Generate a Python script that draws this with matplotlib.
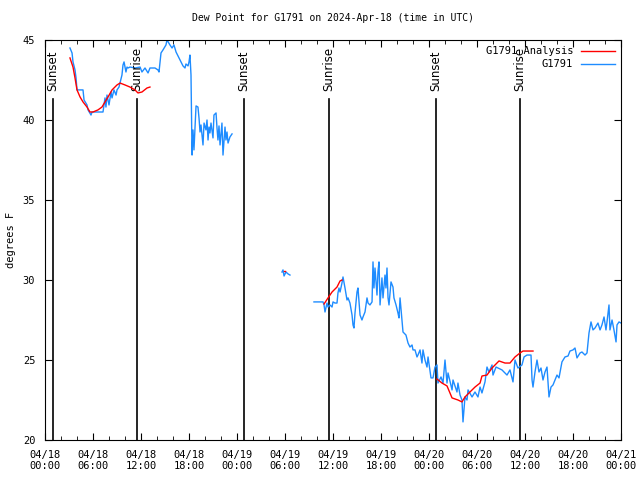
import datetime as dt
import matplotlib
matplotlib.use('Agg')
import matplotlib.pyplot as plt
import matplotlib.dates as mdates

# hours after 2024-04-18 00:00 UTC, one list per unbroken piece of the trace
obs_hours = [
    [3.12, 3.38, 3.5, 3.75, 3.88, 4.0, 4.75, 4.88, 5.25, 5.38, 5.75, 5.88, 7.25, 7.5, 7.62,
     7.75, 8.0, 8.25, 8.38, 8.62, 8.88, 9.0, 9.25, 9.62, 9.75, 9.88, 10.12, 10.25, 10.38,
     10.62, 11.25, 11.88, 12.12, 12.5, 12.88, 13.12, 13.75, 14.12, 14.25, 14.5, 14.75, 15.12,
     15.25, 15.62, 15.88, 16.12, 16.38, 16.88, 17.25, 17.5, 17.62, 17.88, 18.0, 18.12, 18.25,
     18.38, 18.5, 18.62, 18.88, 19.12, 19.25, 19.38, 19.5, 19.75, 19.88, 20.12, 20.25, 20.38,
     20.5, 20.62, 20.75, 21.0, 21.12, 21.38, 21.5, 21.62, 21.75, 21.88, 22.12, 22.25, 22.5,
     22.62, 22.75, 22.88, 23.12, 23.38],
    [29.62, 29.75, 29.88, 30.12, 30.38, 30.62],
    [33.62, 34.75, 34.88, 35.0, 35.25, 35.38, 35.62, 35.88, 36.0, 36.25, 36.5, 36.62, 36.75,
     36.88, 37.12, 37.25, 37.5, 37.75, 37.88, 38.12, 38.38, 38.5, 38.62, 38.75, 39.0, 39.12,
     39.38, 39.62, 39.75, 40.0, 40.25, 40.38, 40.62, 40.88, 41.0, 41.12, 41.25, 41.5, 41.62,
     41.75, 41.88, 42.12, 42.25, 42.5, 42.62, 42.75, 42.88, 43.0, 43.25, 43.5, 43.62, 43.88,
     44.12, 44.25, 44.38, 44.62, 44.75, 45.12, 45.38, 45.62, 45.88, 46.0, 46.25, 46.5, 46.62,
     46.88, 47.12, 47.25, 47.5, 47.75, 47.88, 48.25, 48.5, 48.75, 49.0, 49.12, 49.5, 49.75,
     50.0, 50.25, 50.38, 50.88, 51.0, 51.5, 51.62, 51.88, 52.12, 52.25, 52.5, 52.75, 52.88,
     53.38, 53.75, 54.12, 54.38, 54.62, 55.0, 55.25, 55.5, 55.88, 56.0, 56.38, 57.12, 57.75,
     58.12, 58.5, 58.75, 59.12, 59.62, 59.88, 60.25, 60.75, 60.88, 61.0, 61.25, 61.5, 61.75,
     62.0, 62.25, 62.5, 62.75, 63.0, 63.25, 63.5, 64.0, 64.25, 64.62, 65.0, 65.38, 65.62,
     66.0, 66.25, 66.5, 66.88, 67.12, 67.5, 67.75, 68.0, 68.25, 68.5, 68.75, 69.12, 69.38,
     69.62, 69.88, 70.12, 70.25, 70.5, 70.62, 70.88, 71.12, 71.38, 71.5, 71.75, 72.0],
]
obs_dewpt = [
    [44.5, 44.19, 43.63, 43.13, 42.63, 41.88, 41.88, 41.25, 40.94, 40.63, 40.31, 40.5, 40.5,
     41.38, 40.81, 41.56, 40.94, 41.75, 41.38, 41.88, 41.56, 41.88, 42.06, 42.81, 43.44,
     43.63, 43.0, 43.31, 43.25, 43.31, 43.25, 43.31, 43.0, 43.25, 42.94, 43.25, 43.25, 43.13,
     43.0, 44.19, 44.38, 44.69, 45.0, 44.69, 44.5, 44.69, 44.25, 43.75, 43.38, 43.25, 43.5,
     43.38, 43.63, 44.06, 42.81, 37.81, 39.38, 38.13, 40.88, 40.81, 40.13, 39.25, 39.69,
     38.44, 39.81, 39.38, 40.0, 38.75, 39.56, 39.19, 39.81, 38.88, 40.31, 40.44, 39.5, 38.75,
     39.63, 38.44, 39.81, 37.81, 39.56, 38.75, 39.25, 38.56, 38.94, 39.13],
    [30.5, 30.63, 30.25, 30.5, 30.38, 30.31],
    [28.63, 28.63, 28.44, 28.0, 28.56, 28.31, 28.44, 28.31, 28.63, 28.56, 28.56, 29.19, 29.5,
     29.25, 29.81, 30.19, 29.5, 28.75, 28.88, 28.56, 27.81, 27.19, 27.0, 27.94, 29.25, 29.5,
     27.81, 27.5, 27.69, 28.0, 28.88, 28.56, 28.44, 28.63, 31.13, 29.5, 30.75, 29.06, 30.5,
     31.13, 28.44, 30.13, 28.88, 30.31, 29.5, 30.75, 28.88, 28.44, 29.88, 29.56, 28.88, 28.44,
     27.94, 27.63, 28.88, 27.5, 26.75, 26.56, 26.06, 25.81, 25.94, 25.63, 25.63, 25.19, 25.31,
     25.63, 24.81, 25.63, 25.0, 24.56, 25.19, 23.88, 23.88, 24.56, 24.69, 23.56, 23.94, 23.56,
     25.0, 23.56, 24.19, 23.13, 23.75, 23.0, 23.56, 22.81, 22.5, 21.13, 22.69, 22.5, 23.13,
     22.69, 23.0, 22.69, 23.31, 22.94, 23.63, 24.56, 24.25, 24.69, 24.06, 24.56, 24.38, 24.06,
     24.38, 23.63, 25.0, 24.5, 24.69, 25.19, 25.31, 25.31, 23.75, 23.31, 24.25, 25.0, 24.25,
     24.5, 23.75, 24.25, 24.56, 22.69, 23.31, 23.44, 24.06, 23.88, 24.88, 25.19, 25.25, 25.56,
     25.63, 25.75, 25.13, 25.44, 25.5, 25.31, 25.44, 26.69, 27.38, 26.88, 27.0, 27.31, 26.88,
     27.19, 27.69, 26.88, 27.38, 28.44, 26.88, 27.5, 26.88, 26.13, 27.19, 27.38, 27.31],
]

ana_hours = [
    [3.12, 3.5, 3.75, 4.0, 4.38, 4.75, 5.25, 5.62, 6.0, 6.62, 7.12, 7.5, 7.88, 8.38, 9.0,
     9.38, 10.0, 10.62, 11.25, 11.62, 12.12, 12.75, 13.12],
    [29.88, 30.0],
    [34.88, 35.38, 35.88, 36.5, 36.88, 37.12],
    [49.0, 49.62, 50.25, 50.62, 50.88, 51.62, 52.12, 52.5, 53.12, 53.75, 54.38, 54.62, 55.25,
     55.88, 56.75, 57.5, 58.12, 58.75, 59.38, 59.75, 61.0],
]
ana_dewpt = [
    [43.88, 43.31, 42.63, 41.88, 41.44, 41.13, 40.81, 40.5, 40.5, 40.63, 40.81, 41.13, 41.44,
     41.88, 42.19, 42.31, 42.19, 42.06, 41.88, 41.69, 41.75, 42.0, 42.06],
    [30.56, 30.56],
    [28.5, 28.88, 29.25, 29.56, 29.94, 30.0],
    [23.81, 23.56, 23.38, 22.94, 22.63, 22.5, 22.38, 22.69, 23.0, 23.31, 23.56, 24.0, 24.06,
     24.5, 24.94, 24.81, 24.81, 25.19, 25.44, 25.56, 25.56],
]

sun_hours = [1.0, 11.5, 24.9, 35.5, 48.9, 59.4]
sun_labels = ['Sunset', 'Sunrise', 'Sunset', 'Sunrise', 'Sunset', 'Sunrise']

start = dt.datetime(2024, 4, 18)


def to_time(hours):
    return [start + dt.timedelta(hours=h) for h in hours]


mono = 'DejaVu Sans Mono'
plt.rcParams['font.family'] = mono
plt.rcParams['font.size'] = 7

fig = plt.figure(figsize=(6.4, 4.8), dpi=100)
ax = fig.add_axes([45 / 640, 40 / 480, 576 / 640, 400 / 480])

# sunrise / sunset markers
for h, lab in zip(sun_hours, sun_labels):
    t = start + dt.timedelta(hours=h)
    ax.plot([t, t], [20, 41.3], color='black', lw=1.2, zorder=1)
    ax.text(t, 41.8, lab, rotation=90, ha='center', va='bottom',
            family='DejaVu Sans', fontsize=8.5)

for i, (h, d) in enumerate(zip(ana_hours, ana_dewpt)):
    ax.plot(to_time(h), d, color='#ff0000', lw=1.0,
            label='G1791 Analysis' if i == 0 else None, zorder=3)
for i, (h, d) in enumerate(zip(obs_hours, obs_dewpt)):
    ax.plot(to_time(h), d, color='#1e8cff', lw=1.0,
            label='G1791' if i == 0 else None, zorder=2)

ax.set_xlim(start, start + dt.timedelta(hours=72))
ax.set_ylim(20, 45)
ax.set_yticks([20, 25, 30, 35, 40, 45])
ax.xaxis.set_major_locator(mdates.HourLocator(byhour=range(0, 24, 6)))
ax.xaxis.set_minor_locator(mdates.HourLocator(byhour=range(0, 24, 2)))
ax.xaxis.set_major_formatter(mdates.DateFormatter('%m/%d\n%H:%M'))
ax.tick_params(which='both', direction='in', top=True, right=True,
               labelsize=7.5, pad=7)
ax.tick_params(which='major', length=5)
ax.tick_params(which='minor', length=3)

ax.set_ylabel('degrees F', fontsize=7.5, labelpad=5)
ax.set_title('Dew Point for G1791 on 2024-Apr-18 (time in UTC)', fontsize=7, pad=14)

ax.legend(loc='upper right', frameon=False, markerfirst=False, fontsize=7.5,
          handlelength=3.2, borderaxespad=0.2, labelspacing=0.3)

fig.savefig('out.png', dpi=100)
